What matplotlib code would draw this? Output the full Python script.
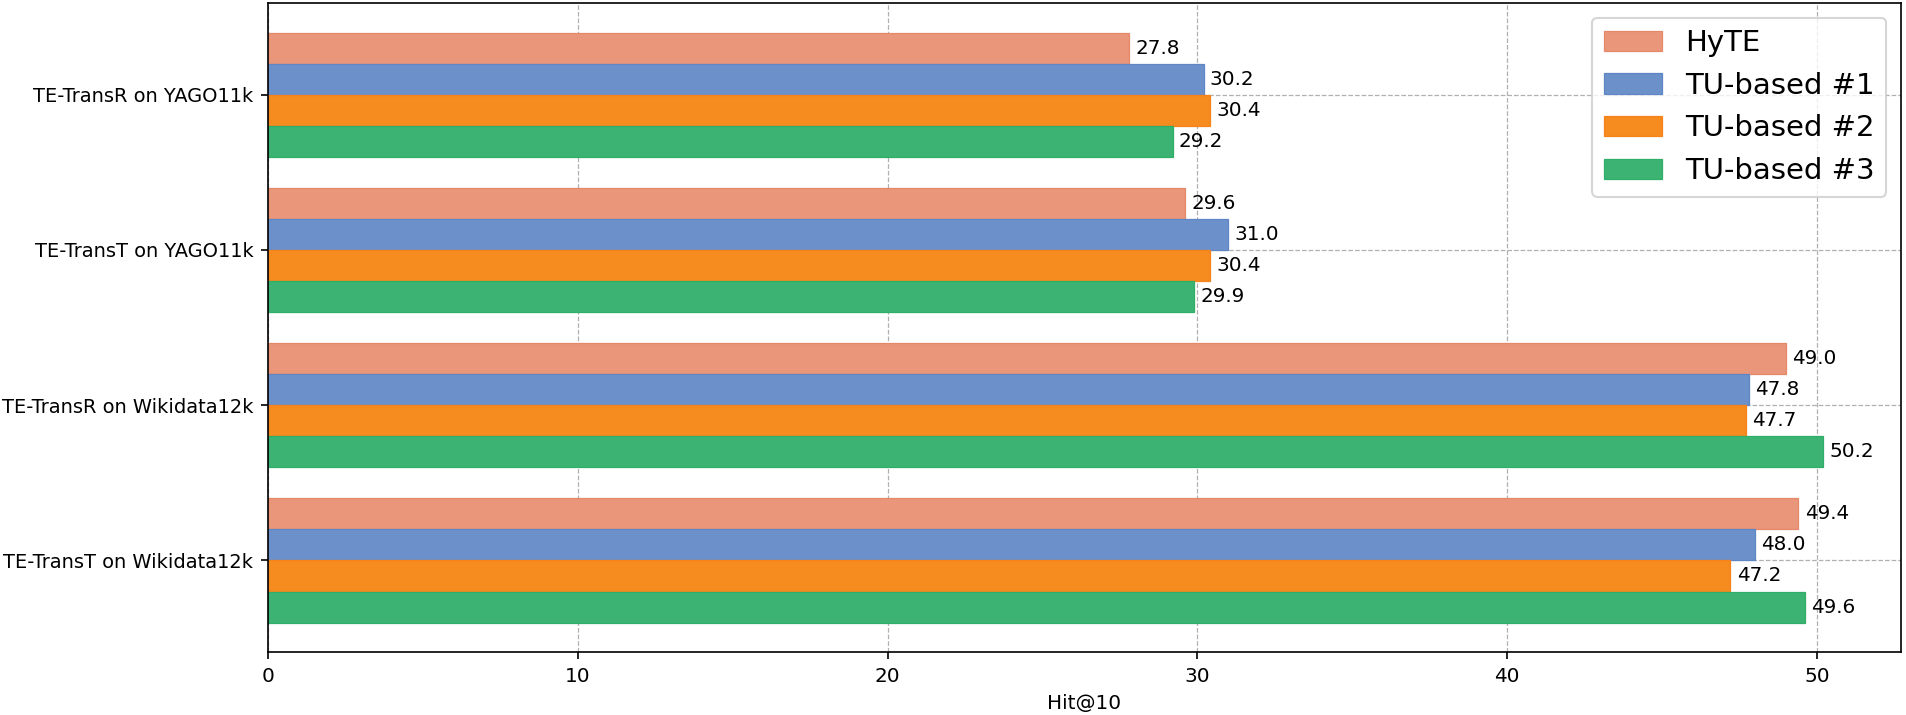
import numpy as np
import matplotlib
matplotlib.use("Agg")
import matplotlib.pyplot as plt


groups = [
    "TE-TransR on YAGO11k",
    "TE-TransT on YAGO11k",
    "TE-TransR on Wikidata12k",
    "TE-TransT on Wikidata12k",
]
series_names = ["HyTE", "TU-based #1", "TU-based #2", "TU-based #3"]

hyte = [27.8, 29.6, 49.0, 49.4]
tu_1 = [30.2, 31.0, 47.8, 48.0]
tu_2 = [30.4, 30.4, 47.7, 47.2]
tu_3 = [29.2, 29.9, 50.2, 49.6]

fill_colors = ["#E9967B", "#6C91CA", "#F68B20", "#3CB373"]
edge_colors = ["#E58868", "#5F86C4", "#F5831A", "#2FAE68"]

fig, ax = plt.subplots(figsize=(1906 / 150, 715 / 150), dpi=150)
fig.subplots_adjust(left=0.1406, right=0.9974, top=0.9958, bottom=0.088)

y = np.arange(len(groups))
bar_h = 0.2

for i, (name, vals) in enumerate(zip(series_names, [hyte, tu_1, tu_2, tu_3])):
    bars = ax.barh(
        y + (i - 1.5) * bar_h,
        vals,
        height=bar_h,
        color=fill_colors[i],
        edgecolor=edge_colors[i],
        linewidth=0.6,
        label=name,
    )
    ax.bar_label(bars, labels=[f"{v:.1f}" for v in vals], padding=3, fontsize=9.6)

ax.set_yticks(y)
ax.set_yticklabels(groups, fontsize=9.3)
ax.tick_params(axis="x", labelsize=9.6)
ax.invert_yaxis()

ax.set_xlabel("Hit@10", fontsize=9.6)
ax.grid(True, linestyle="--", linewidth=0.6, color="#b0b0b0")
ax.set_axisbelow(True)

ax.legend(loc="upper right", fontsize=14)

plt.savefig("out.png", dpi=150)
